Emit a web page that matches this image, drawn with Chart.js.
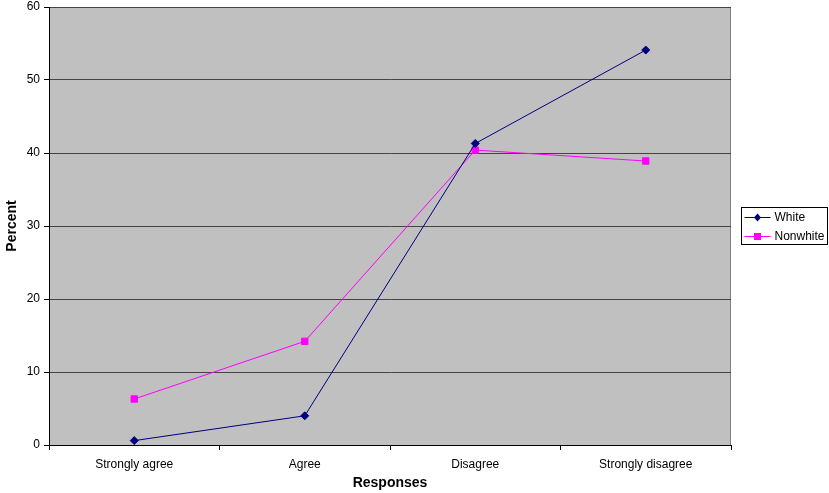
<!DOCTYPE html>
<html>
<head>
<meta charset="utf-8">
<script src="https://cdn.jsdelivr.net/npm/chart.js@4/dist/chart.umd.min.js"></script>
<style>
  html, body { margin: 0; padding: 0; background: #fff; }
  #wrap { width: 829px; height: 493px; position: relative; }
</style>
</head>
<body>
<div id="wrap"><canvas id="c" width="829" height="493"></canvas></div>
<script>
// Survey responses by group (percent)
const categories = ['Strongly agree', 'Agree', 'Disagree', 'Strongly disagree'];
const whiteValues = [0.6, 4.0, 41.3, 54.1];
const nonwhiteValues = [6.3, 14.2, 40.4, 38.9];
const seriesNames = ['White', 'Nonwhite'];
const yTicks = [0, 10, 20, 30, 40, 50, 60];

const FONT = 'Liberation Sans, Arial, sans-serif';
const NAVY = '#000080';
const MAGENTA = '#FF00FF';

// Gray plot background with a thin frame
const plotBackground = {
  id: 'plotBackground',
  beforeDraw(chart) {
    const { ctx, chartArea: a } = chart;
    ctx.save();
    ctx.fillStyle = '#C0C0C0';
    ctx.fillRect(a.left, a.top, a.right - a.left, a.bottom - a.top);
    ctx.strokeStyle = '#808080';
    ctx.lineWidth = 1;
    ctx.strokeRect(a.left + 0.5, a.top + 0.5, a.right - a.left - 1, a.bottom - a.top);
    ctx.restore();
  }
};

// Boxed legend on the right with line + marker samples
const sideLegend = {
  id: 'sideLegend',
  afterDraw(chart) {
    const { ctx } = chart;
    const x = 741.5, y = 207.5, w = 86, h = 37;
    ctx.save();
    ctx.fillStyle = '#fff';
    ctx.fillRect(x, y, w, h);
    ctx.strokeStyle = '#000';
    ctx.lineWidth = 1;
    ctx.strokeRect(x, y, w, h);
    ctx.font = '12px ' + FONT;
    ctx.textBaseline = 'middle';
    chart.data.datasets.forEach((ds, i) => {
      const cy = Math.round(y + 9 + i * 19);
      ctx.strokeStyle = ds.borderColor;
      ctx.lineWidth = 1;
      ctx.beginPath();
      ctx.moveTo(x + 3, cy + 0.5);
      ctx.lineTo(x + 29, cy + 0.5);
      ctx.stroke();
      ctx.fillStyle = ds.pointBackgroundColor;
      const mx = x + 16;
      if (ds.pointStyle === 'rectRot') {
        ctx.beginPath();
        ctx.moveTo(mx, cy - 3.5);
        ctx.lineTo(mx + 3.5, cy + 0.5);
        ctx.lineTo(mx, cy + 4.5);
        ctx.lineTo(mx - 3.5, cy + 0.5);
        ctx.closePath();
        ctx.fill();
      } else {
        ctx.fillRect(mx - 3.5, cy - 3, 7, 7);
      }
      ctx.fillStyle = '#000';
      ctx.fillText(ds.label, x + 33, cy + 1);
    });
    ctx.restore();
  }
};

new Chart(document.getElementById('c'), {
  type: 'line',
  data: {
    labels: categories,
    datasets: [
      {
        label: seriesNames[0],
        data: whiteValues,
        borderColor: NAVY,
        backgroundColor: NAVY,
        pointBackgroundColor: NAVY,
        pointBorderColor: NAVY,
        pointStyle: 'rectRot',
        pointRadius: 4,
        borderWidth: 1,
        tension: 0
      },
      {
        label: seriesNames[1],
        data: nonwhiteValues,
        borderColor: MAGENTA,
        backgroundColor: MAGENTA,
        pointBackgroundColor: MAGENTA,
        pointBorderColor: MAGENTA,
        pointStyle: 'rect',
        pointRadius: 4.5,
        borderWidth: 1,
        tension: 0
      }
    ]
  },
  plugins: [plotBackground, sideLegend],
  options: {
    responsive: false,
    animation: false,
    devicePixelRatio: 1,
    layout: { padding: { left: 0, top: 7, right: 98, bottom: 0 } },
    plugins: {
      legend: { display: false },
      tooltip: { enabled: false }
    },
    scales: {
      x: {
        type: 'category',
        offset: true,
        grid: {
          offset: true,
          drawOnChartArea: false,
          drawTicks: true,
          tickLength: 5,
          color: '#000',
          tickColor: '#000'
        },
        border: { color: '#000', width: 1 },
        ticks: {
          color: '#000',
          font: { family: FONT, size: 12 },
          padding: 7,
          maxRotation: 0
        },
        title: {
          display: true,
          text: 'Responses',
          color: '#000',
          font: { family: FONT, size: 14, weight: 'bold' },
          padding: { top: 0, bottom: 1 }
        },
        afterFit(scale) {
          scale.height = 48;
          scale.paddingLeft = 0;
          scale.paddingRight = 0;
        }
      },
      y: {
        min: 0,
        max: 60,
        afterBuildTicks(scale) { scale.ticks = yTicks.map(v => ({ value: v })); },
        grid: {
          color: '#444',
          lineWidth: 1,
          tickLength: 5,
          tickColor: '#000',
          drawTicks: true
        },
        border: { color: '#000', width: 1 },
        ticks: {
          color: '#000',
          font: { family: FONT, size: 12 },
          padding: 4
        },
        title: {
          display: true,
          text: 'Percent',
          color: '#000',
          font: { family: FONT, size: 14, weight: 'bold' },
          padding: { top: 4, bottom: 0 }
        },
        afterFit(scale) {
          scale.width = 49;
          scale.paddingTop = 0;
          scale.paddingBottom = 0;
        }
      }
    }
  }
});
</script>
</body>
</html>
